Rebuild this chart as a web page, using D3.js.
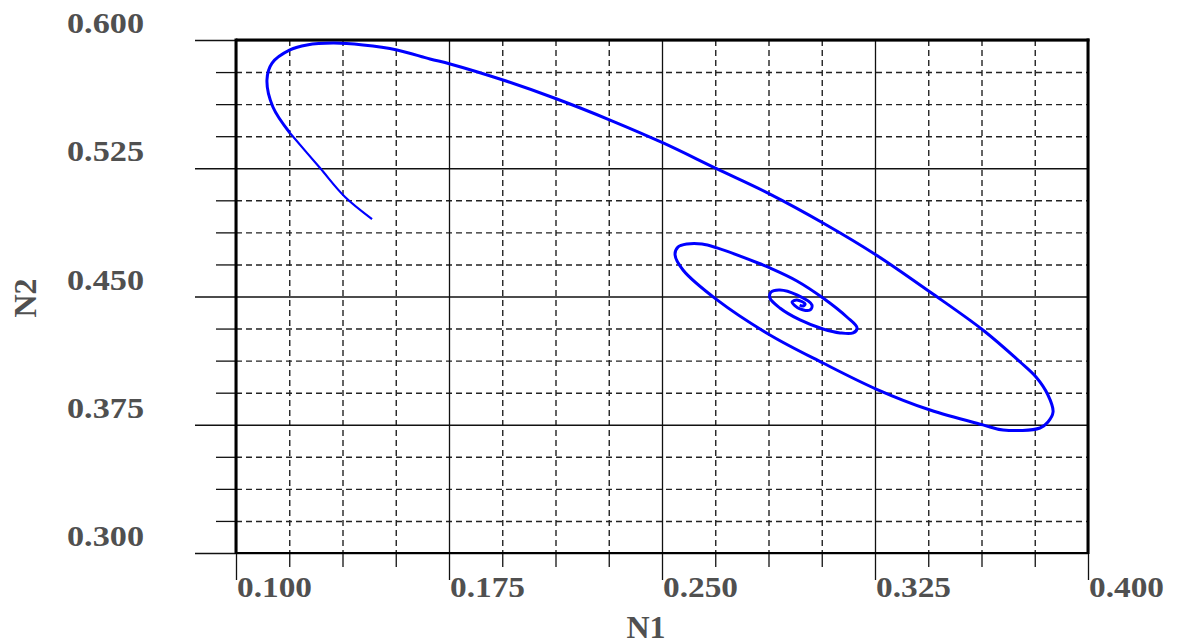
<!DOCTYPE html>
<html>
<head>
<meta charset="utf-8">
<script src="https://cdn.jsdelivr.net/npm/d3@7/dist/d3.min.js"></script>
<style>
  html, body { margin: 0; padding: 0; background: #fff; }
  svg { display: block; }
  text { font-family: 'Liberation Serif', Tinos, Times, serif; font-weight: 700; fill: #505050; }
</style>
</head>
<body>
<svg id="chart" width="1177" height="644"></svg>
<script>
// ---- data ----
const xMajorTicks = [0.100, 0.175, 0.250, 0.325, 0.400];
const yMajorTicks = [0.300, 0.375, 0.450, 0.525, 0.600];
const xTickLabels = ["0.100", "0.175", "0.250", "0.325", "0.400"];
const yTickLabels = ["0.300", "0.375", "0.450", "0.525", "0.600"];
const xMinorTicks = [0.11875, 0.1375, 0.15625, 0.19375, 0.2125, 0.23125, 0.26875, 0.2875, 0.30625, 0.34375, 0.3625, 0.38125];
const yMinorTicks = [0.31875, 0.3375, 0.35625, 0.39375, 0.4125, 0.43125, 0.46875, 0.4875, 0.50625, 0.54375, 0.5625, 0.58125];

// trajectory (N1, N2)
const N1 = [0.1479, 0.1384, 0.1296, 0.1190, 0.1130, 0.1109, 0.1127, 0.1190, 0.1250, 0.1342,
            0.1447, 0.1567, 0.1683, 0.1754, 0.1940, 0.2130, 0.2317, 0.2504, 0.2694, 0.2880,
            0.3067, 0.3254, 0.3444, 0.3630, 0.3761, 0.3817, 0.3859, 0.3877, 0.3859, 0.3831,
            0.3701, 0.3630, 0.3444, 0.3254, 0.3067, 0.2880, 0.2694, 0.2574, 0.2546, 0.2556,
            0.2588, 0.2641, 0.2694, 0.2838, 0.2880, 0.2975, 0.3067, 0.3151, 0.3187, 0.3173,
            0.3127, 0.3067, 0.2986, 0.2915, 0.2880, 0.2884, 0.2915, 0.2975, 0.3028, 0.3021,
            0.2986, 0.2958, 0.2975, 0.3004, 0.2996, 0.2985];
const N2 = [0.4953, 0.5082, 0.5251, 0.5456, 0.5608, 0.5766, 0.5865, 0.5942, 0.5971, 0.5982,
            0.5971, 0.5942, 0.5889, 0.5860, 0.5766, 0.5655, 0.5532, 0.5398, 0.5246, 0.5099,
            0.4930, 0.4743, 0.4526, 0.4304, 0.4117, 0.4029, 0.3924, 0.3825, 0.3766, 0.3731,
            0.3719, 0.3749, 0.3836, 0.3959, 0.4111, 0.4275, 0.4480, 0.4655, 0.4743, 0.4789,
            0.4807, 0.4807, 0.4784, 0.4696, 0.4667, 0.4591, 0.4491, 0.4380, 0.4316, 0.4287,
            0.4287, 0.4310, 0.4363, 0.4433, 0.4491, 0.4526, 0.4538, 0.4509, 0.4450, 0.4421,
            0.4427, 0.4468, 0.4480, 0.4456, 0.4444, 0.4450];
const tailCount = 3; // first points drawn thinner (start of trajectory)

// ---- layout ----
const L = 236, R = 1088, T = 40, B = 553;
const svg = d3.select("#chart");
const x = d3.scaleLinear().domain([0.1, 0.4]).range([L, R]);
const y = d3.scaleLinear().domain([0.3, 0.6]).range([B, T]);

// minor grid (dashed)
svg.append("g").attr("transform", `translate(0,${T})`)
  .call(d3.axisBottom(x).tickValues(xMinorTicks).tickSize(B - T).tickFormat(""))
  .call(g => g.select(".domain").remove())
  .call(g => g.selectAll("line").attr("stroke", "#222").attr("stroke-width", 1.4).attr("stroke-dasharray", "6,4"));
svg.append("g").attr("transform", `translate(${L},0)`)
  .call(d3.axisRight(y).tickValues(yMinorTicks).tickSize(R - L).tickFormat(""))
  .call(g => g.select(".domain").remove())
  .call(g => g.selectAll("line").attr("stroke", "#222").attr("stroke-width", 1.4).attr("stroke-dasharray", "6,4"));

// major grid (solid)
svg.append("g").attr("transform", `translate(0,${T})`)
  .call(d3.axisBottom(x).tickValues(xMajorTicks).tickSize(B - T).tickFormat(""))
  .call(g => g.select(".domain").remove())
  .call(g => g.selectAll("line").attr("stroke", "#111").attr("stroke-width", 1.3));
svg.append("g").attr("transform", `translate(${L},0)`)
  .call(d3.axisRight(y).tickValues(yMajorTicks).tickSize(R - L).tickFormat(""))
  .call(g => g.select(".domain").remove())
  .call(g => g.selectAll("line").attr("stroke", "#111").attr("stroke-width", 1.3));

// outside ticks
svg.append("g").attr("transform", `translate(${L},0)`)
  .call(d3.axisLeft(y).tickValues(yMajorTicks).tickSize(41).tickFormat(""))
  .call(g => g.select(".domain").remove())
  .call(g => g.selectAll("line").attr("stroke", "#111").attr("stroke-width", 1.3));
svg.append("g").attr("transform", `translate(${L},0)`)
  .call(d3.axisLeft(y).tickValues(yMinorTicks).tickSize(20).tickFormat(""))
  .call(g => g.select(".domain").remove())
  .call(g => g.selectAll("line").attr("stroke", "#111").attr("stroke-width", 1.3));
svg.append("g").attr("transform", `translate(0,${B})`)
  .call(d3.axisBottom(x).tickValues(xMajorTicks).tickSize(27).tickFormat(""))
  .call(g => g.select(".domain").remove())
  .call(g => g.selectAll("line").attr("stroke", "#111").attr("stroke-width", 1.3));
svg.append("g").attr("transform", `translate(0,${B})`)
  .call(d3.axisBottom(x).tickValues(xMinorTicks).tickSize(14).tickFormat(""))
  .call(g => g.select(".domain").remove())
  .call(g => g.selectAll("line").attr("stroke", "#111").attr("stroke-width", 1.3));

// frame
svg.append("line").attr("x1", L).attr("x2", R + 1.5).attr("y1", T).attr("y2", T).attr("stroke", "#000").attr("stroke-width", 3);
svg.append("line").attr("x1", L).attr("x2", L).attr("y1", T - 1.5).attr("y2", B + 1).attr("stroke", "#000").attr("stroke-width", 3);
svg.append("line").attr("x1", R).attr("x2", R).attr("y1", T - 1.5).attr("y2", B + 1).attr("stroke", "#000").attr("stroke-width", 3);
svg.append("line").attr("x1", L).attr("x2", R).attr("y1", B).attr("y2", B).attr("stroke", "#000").attr("stroke-width", 2.2);

// tick labels
svg.append("g").selectAll("text").data(xMajorTicks).join("text")
  .attr("x", d => x(d) + 1).attr("y", 597)
  .attr("font-size", 30).attr("textLength", 75).attr("lengthAdjust", "spacingAndGlyphs")
  .text((d, i) => xTickLabels[i]);
svg.append("g").selectAll("text").data(yMajorTicks).join("text")
  .attr("x", 67).attr("y", d => y(d) - 7)
  .attr("font-size", 30).attr("textLength", 77).attr("lengthAdjust", "spacingAndGlyphs")
  .text((d, i) => yTickLabels[i]);

// axis titles
svg.append("text").attr("x", 646).attr("y", 638).attr("text-anchor", "middle")
  .attr("font-size", 32).text("N1");
svg.append("text").attr("transform", "translate(36,298) rotate(-90)").attr("text-anchor", "middle")
  .attr("font-size", 32).text("N2");

// trajectory
const pts = N1.map((v, i) => [v, N2[i]]);
const line = d3.line().x(d => x(d[0])).y(d => y(d[1])).curve(d3.curveCatmullRom.alpha(0.5));
svg.append("path").datum(pts.slice(0, tailCount + 1))
  .attr("d", line).attr("fill", "none").attr("stroke", "#0000ff").attr("stroke-width", 2.2);
svg.append("path").datum(pts.slice(tailCount))
  .attr("d", line).attr("fill", "none").attr("stroke", "#0000ff").attr("stroke-width", 3);
</script>
</body>
</html>
